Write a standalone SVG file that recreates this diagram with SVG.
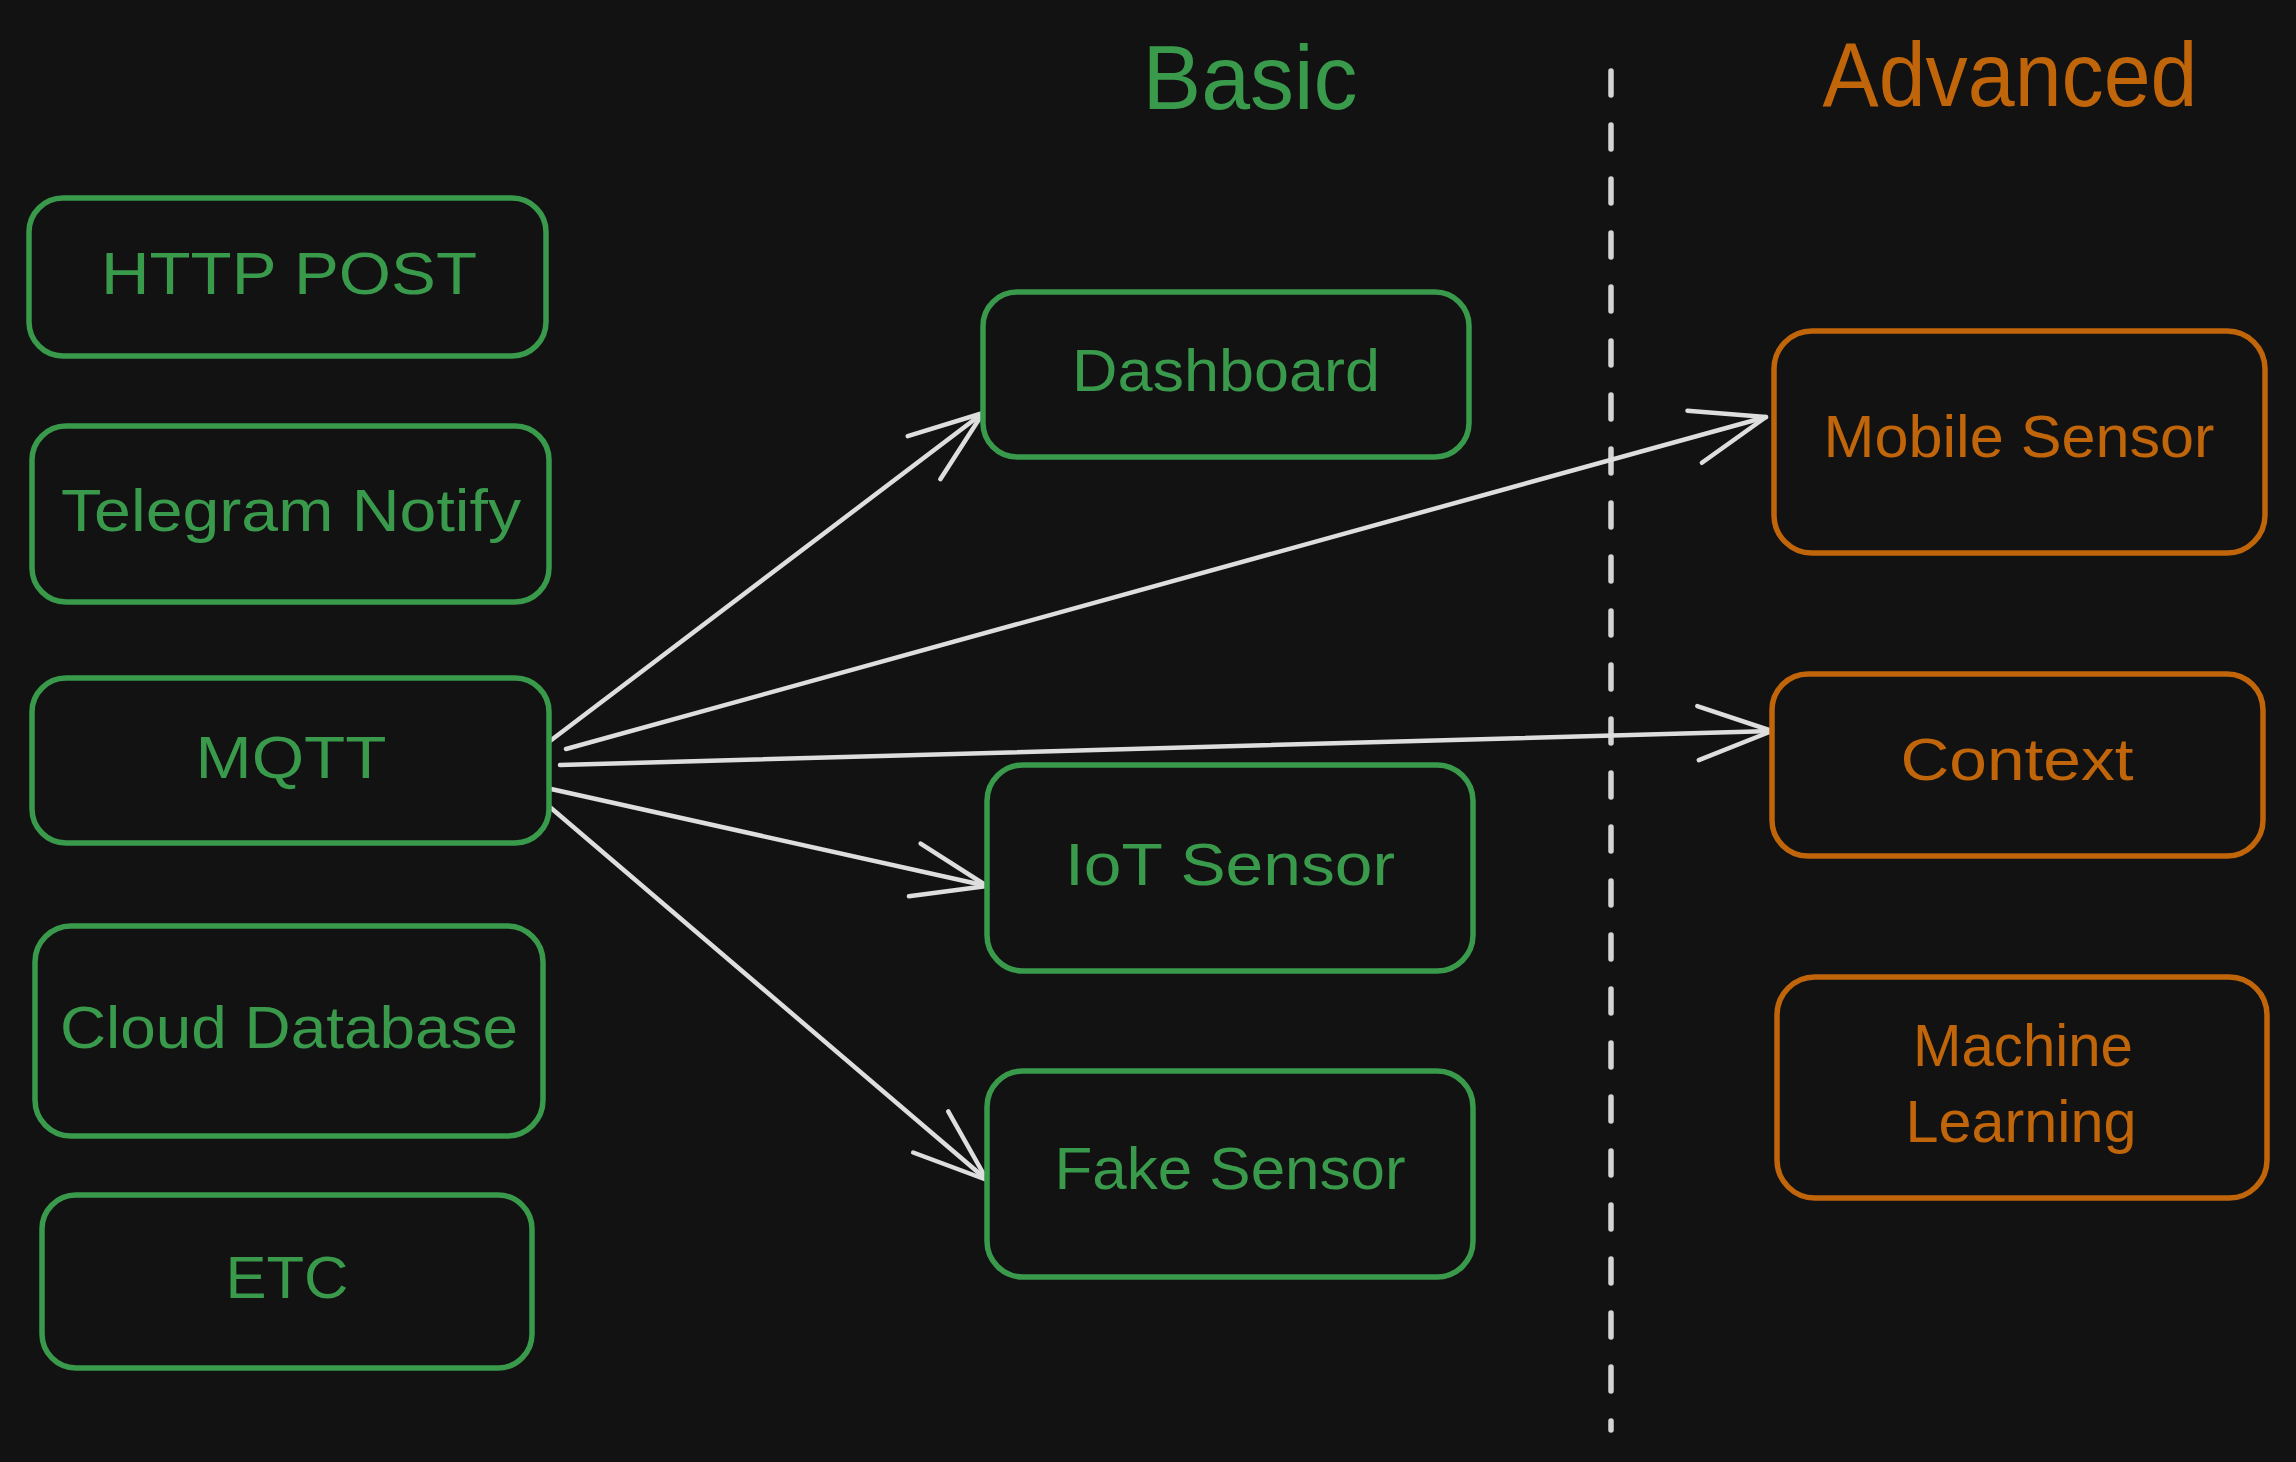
<svg xmlns="http://www.w3.org/2000/svg" width="2296" height="1462" viewBox="0 0 2296 1462">
<defs>
<style>
.bg{fill:#121212}
.g rect{fill:#121212;stroke:#3a9a4c;stroke-width:5.5}
.o rect{fill:#121212;stroke:#c0650a;stroke-width:5.5}
.g text{fill:#3a9a4c}
.o text{fill:#c0650a}
text{font-family:"Liberation Sans",Arial,sans-serif;font-size:60px;text-anchor:middle}
.title{font-size:90px}
.conn line{stroke:#dedede;stroke-width:4.5;stroke-linecap:round;fill:none}
.divider{stroke:#d4d4d4;stroke-width:5.5;stroke-linecap:round;stroke-dasharray:24 30;fill:none}
</style>
<marker id="arrow" markerUnits="userSpaceOnUse" viewBox="-80 -32 86 64" markerWidth="86" markerHeight="64" refX="0" refY="0" orient="auto" overflow="visible">
<path d="M -74 -27 L 0 0 L -74 27" fill="none" stroke="#dedede" stroke-width="4.5" stroke-linecap="round" stroke-linejoin="round"/>
</marker>
</defs>
<rect class="bg" x="0" y="0" width="2296" height="1462"/>

<g id="titles">
<g id="title-basic" class="g"><text class="title" x="1250" y="109" textLength="215" lengthAdjust="spacingAndGlyphs">Basic</text></g>
<g id="title-advanced" class="o"><text class="title" x="2010" y="106" textLength="375" lengthAdjust="spacingAndGlyphs">Advanced</text></g>
</g>

<path id="divider" class="divider" d="M1611 71 L1611 1430"/>

<g id="connectors" class="conn">
<line x1="550" y1="741" x2="983" y2="413" marker-end="url(#arrow)"/>
<line x1="566" y1="749" x2="1766" y2="417" marker-end="url(#arrow)"/>
<line x1="560" y1="765" x2="1772" y2="731" marker-end="url(#arrow)"/>
<line x1="551" y1="789" x2="987" y2="886" marker-end="url(#arrow)"/>
<line x1="551" y1="808" x2="987" y2="1180" marker-end="url(#arrow)"/>
</g>

<g id="node-http-post" class="g">
<rect x="29" y="198" width="517" height="158" rx="34"/>
<text x="289" y="294" textLength="376" lengthAdjust="spacingAndGlyphs">HTTP POST</text>
</g>
<g id="node-telegram" class="g">
<rect x="32" y="426" width="517" height="176" rx="34"/>
<text x="291" y="531" textLength="460" lengthAdjust="spacingAndGlyphs">Telegram Notify</text>
</g>
<g id="node-mqtt" class="g">
<rect x="32" y="678" width="517" height="165" rx="34"/>
<text x="291" y="778" textLength="191" lengthAdjust="spacingAndGlyphs">MQTT</text>
</g>
<g id="node-cloud-db" class="g">
<rect x="35" y="926" width="508" height="210" rx="36"/>
<text x="289" y="1048" textLength="458" lengthAdjust="spacingAndGlyphs">Cloud Database</text>
</g>
<g id="node-etc" class="g">
<rect x="42" y="1195" width="490" height="173" rx="34"/>
<text x="287" y="1298" textLength="123" lengthAdjust="spacingAndGlyphs">ETC</text>
</g>

<g id="node-dashboard" class="g">
<rect x="983" y="292" width="486" height="165" rx="34"/>
<text x="1226" y="391" textLength="308" lengthAdjust="spacingAndGlyphs">Dashboard</text>
</g>
<g id="node-iot-sensor" class="g">
<rect x="987" y="765" width="486" height="206" rx="36"/>
<text x="1230" y="885" textLength="330" lengthAdjust="spacingAndGlyphs">IoT Sensor</text>
</g>
<g id="node-fake-sensor" class="g">
<rect x="987" y="1071" width="486" height="206" rx="36"/>
<text x="1230" y="1189" textLength="351" lengthAdjust="spacingAndGlyphs">Fake Sensor</text>
</g>

<g id="node-mobile-sensor" class="o">
<rect x="1774" y="331" width="491" height="222" rx="38"/>
<text x="2019" y="457" textLength="391" lengthAdjust="spacingAndGlyphs">Mobile Sensor</text>
</g>
<g id="node-context" class="o">
<rect x="1772" y="674" width="491" height="182" rx="36"/>
<text x="2017" y="780" textLength="233" lengthAdjust="spacingAndGlyphs">Context</text>
</g>
<g id="node-ml" class="o">
<rect x="1777" y="977" width="490" height="221" rx="38"/>
<text x="2023" y="1066" textLength="220" lengthAdjust="spacingAndGlyphs">Machine</text>
<text x="2021" y="1142" textLength="231" lengthAdjust="spacingAndGlyphs">Learning</text>
</g>
</svg>
